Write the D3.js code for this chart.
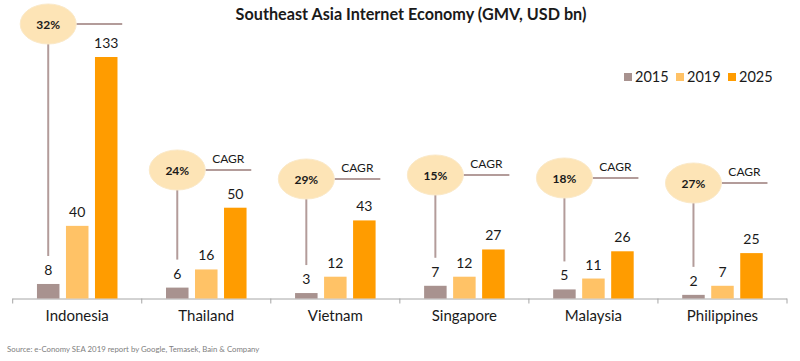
<!DOCTYPE html>
<html>
<head>
    <meta charset="UTF-8">
    <title>Southeast Asia Internet Economy</title>
    <style>
        body { margin: 0; background: white; }
        svg { display: block; font-family: Lato, "Open Sans", sans-serif; }
    </style>
</head>
<body>
    <svg></svg>
    <script src="https://d3js.org/d3.v7.min.js"></script>
    <script>
        let countries = ["Indonesia", "Thailand", "Vietnam", "Singapore", "Malaysia", "Philippines"]
        let years = ["2015", "2019", "2025"]
        let gmv2015 = [8, 6, 3, 7, 5, 2]
        let gmv2019 = [40, 16, 12, 12, 11, 7]
        let gmv2025 = [133, 50, 43, 27, 26, 25]
        let cagr = ["32%", "24%", "29%", "15%", "18%", "27%"]
        // vertical spot of each CAGR bubble (layout only)
        let bubbleY = [24, 170, 179, 175, 178, 183]

        let colors = d3.scaleOrdinal(years, ["#a8928f", "#ffc266", "#ff9c00"]);

        let width = 800, height = 361;
        let svg = d3.select("svg").attr("width", width).attr("height", height)

        let x0 = d3.scaleBand().domain(countries).range([12.7, 787])
            .paddingInner(0.376).paddingOuter(0.188)
        let x1 = d3.scaleBand().domain(years).range([0, x0.bandwidth()]).paddingInner(0.224)
        let y = d3.scaleLinear().domain([0, 133]).range([298.5, 57])

        let rows = countries.map((c, i) => ({
            country: c, cagr: cagr[i], by: bubbleY[i],
            values: [gmv2015[i], gmv2019[i], gmv2025[i]].map((v, j) => ({ year: years[j], value: v }))
        }))

        // title
        svg.append("text")
            .attr("x", 411).attr("y", 20)
            .attr("text-anchor", "middle")
            .style("font-weight", "bold").style("font-size", "16.2px").style("fill", "#1a1a1a")
            .text("Southeast Asia Internet Economy (GMV, USD bn)")

        // axis
        let step = x0.step()
        let axis = svg.append("g").attr("id", "axis")
        axis.append("line")
            .attr("x1", x0.range()[0]).attr("x2", x0.range()[1])
            .attr("y1", y(0) + 0.5).attr("y2", y(0) + 0.5)
            .attr("stroke", "#a6a6a6").attr("stroke-width", 1)
        let bounds = countries.map(c => x0(c) - step * x0.paddingOuter()).concat([x0.range()[1]])
        axis.selectAll(".tick").data(bounds).enter().append("line")
            .attr("x1", d => d).attr("x2", d => d)
            .attr("y1", y(0)).attr("y2", y(0) + 5)
            .attr("stroke", "#a6a6a6")
        axis.selectAll(".lbl").data(countries).enter().append("text")
            .attr("x", d => x0(d) + x0.bandwidth() / 2).attr("y", 321)
            .attr("text-anchor", "middle").style("font-size", "15px").style("fill", "#1a1a1a")
            .text(d => d)

        // CAGR annotations
        let ann = svg.append("g").attr("id", "cagr").selectAll("g").data(rows).enter().append("g")
        let cx = d => x0(d.country) + x1("2015") + x1.bandwidth() / 2
        ann.append("line")
            .attr("x1", cx).attr("x2", cx)
            .attr("y1", d => d.by + 20).attr("y2", d => y(d.values[0].value) - 28)
            .attr("stroke", "#b39c9a").attr("stroke-width", 2)
        ann.append("line")
            .attr("x1", d => cx(d) + 28).attr("x2", d => cx(d) + 74)
            .attr("y1", d => d.by).attr("y2", d => d.by)
            .attr("stroke", "#b39c9a").attr("stroke-width", 2)
        ann.append("ellipse")
            .attr("cx", cx).attr("cy", d => d.by)
            .attr("rx", 28).attr("ry", 20)
            .attr("fill", "#fde4b6").attr("stroke", "#fbe9c8").attr("stroke-width", 1)
        ann.append("text")
            .attr("x", cx).attr("y", d => d.by + 4.5)
            .attr("text-anchor", "middle")
            .style("font-weight", "bold").style("font-size", "12px").style("fill", "#1a1a1a")
            .text(d => d.cagr)
        ann.filter((d, i) => i > 0).append("text")
            .attr("x", d => cx(d) + 51).attr("y", d => d.by - 7)
            .attr("text-anchor", "middle").style("font-size", "12px").style("fill", "#1a1a1a")
            .text("CAGR")

        // bars
        let groups = svg.append("g").attr("id", "bars").selectAll("g").data(rows).enter().append("g")
            .attr("transform", d => "translate(" + x0(d.country) + ",0)")
        groups.selectAll("rect").data(d => d.values).enter().append("rect")
            .attr("x", d => x1(d.year)).attr("width", x1.bandwidth())
            .attr("y", d => y(d.value)).attr("height", d => y(0) - y(d.value))
            .attr("fill", d => colors(d.year))
        groups.selectAll("text").data(d => d.values).enter().append("text")
            .attr("x", d => x1(d.year) + x1.bandwidth() / 2)
            .attr("y", d => y(d.value) - 9)
            .attr("text-anchor", "middle").style("font-size", "14px").style("fill", "#1a1a1a")
            .text(d => d.value)

        // legend
        let legend = svg.append("g").attr("id", "legend").selectAll("g").data(years).enter().append("g")
            .attr("transform", (d, i) => "translate(" + (624 + i * 52) + ",73)")
        legend.append("rect").attr("width", 8).attr("height", 8).attr("fill", d => colors(d))
        legend.append("text").attr("x", 11).attr("y", 8.5)
            .style("font-size", "14.5px").style("fill", "#1a1a1a").text(d => d)

        // source
        svg.append("text")
            .attr("x", 7).attr("y", 352)
            .style("font-size", "7.8px").style("fill", "#808080")
            .text("Source: e-Conomy SEA 2019 report by Google, Temasek, Bain & Company")
    </script>
</body>
</html>
